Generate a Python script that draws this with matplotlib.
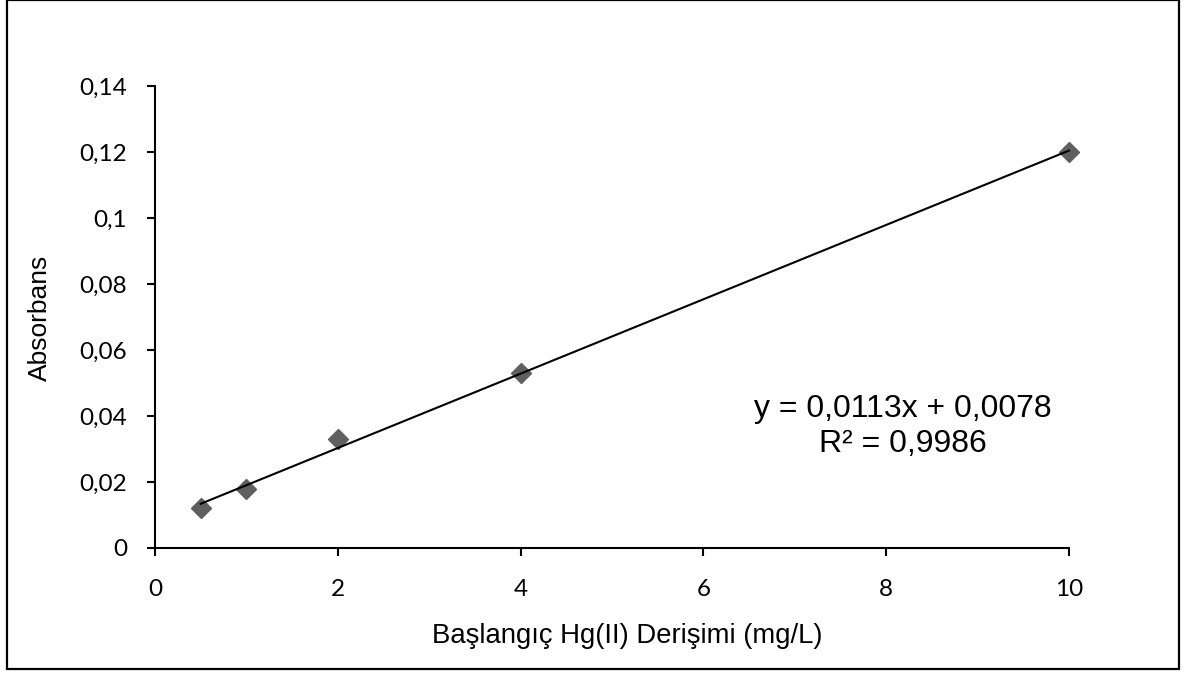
import numpy as np
import matplotlib
matplotlib.use("Agg")
import matplotlib.pyplot as plt
from matplotlib.patches import Rectangle
from matplotlib.ticker import FuncFormatter

# Data
concentration = [0.5, 1, 2, 4, 10]
absorbance = [0.012, 0.018, 0.033, 0.053, 0.120]
x_ticks = [0, 2, 4, 6, 8, 10]
y_ticks = [0, 0.02, 0.04, 0.06, 0.08, 0.10, 0.12, 0.14]
equation_text = "y = 0,0113x + 0,0078"
r2_text = "R² = 0,9986"
x_title = "Başlangıç Hg(II) Derişimi (mg/L)"
y_title = "Absorbans"

W, H = 1187, 675
fig = plt.figure(figsize=(W / 100, H / 100), dpi=100)
ax = fig.add_axes([155 / W, 1 - 548 / H, (1069 - 155) / W, (548 - 86) / H])

ax.plot(concentration, absorbance, linestyle="none", marker="D",
        markersize=10, color="#5f5f5f", markeredgecolor="#5f5f5f",
        zorder=3, clip_on=False)

# linear trendline
slope, intercept = np.polyfit(concentration, absorbance, 1)
xs = np.array([min(concentration), max(concentration)])
ax.plot(xs, slope * xs + intercept, color="black", linewidth=1.5,
        zorder=4, clip_on=False)

ax.set_xlim(0, 10)
ax.set_ylim(0, 0.14)
ax.set_xticks(x_ticks)
ax.set_yticks(y_ticks)


def comma_fmt(v, pos):
    s = f"{v:.2f}".rstrip("0").rstrip(".")
    return s.replace(".", ",")


ax.xaxis.set_major_formatter(FuncFormatter(comma_fmt))
ax.yaxis.set_major_formatter(FuncFormatter(comma_fmt))

for side in ["top", "right"]:
    ax.spines[side].set_visible(False)
for side in ["left", "bottom"]:
    ax.spines[side].set_linewidth(1.5)
    ax.spines[side].set_color("black")

ax.tick_params(axis="both", direction="out", length=6, width=1.5,
               labelsize=17.5, colors="black")
ax.tick_params(axis="y", pad=14)
ax.tick_params(axis="x", pad=16)
for lbl in ax.get_xticklabels() + ax.get_yticklabels():
    lbl.set_fontfamily("Lato")

fig.text(627 / W, 1 - 636 / H, x_title, ha="center", va="center",
         fontsize=19.8, family="Liberation Sans")
fig.text(40 / W, 1 - 318 / H, y_title, ha="center", va="center",
         rotation=90, fontsize=19, family="Liberation Sans")

fig.text(903 / W, 1 - 409 / H, equation_text, ha="center", va="center",
         fontsize=23, family="Liberation Sans")
fig.text(903 / W, 1 - 444 / H, r2_text, ha="center", va="center",
         fontsize=23, family="Liberation Sans")

# outer chart border
fig.patches.append(Rectangle((7 / W, 1 - 669 / H), (1179 - 7) / W, (669 - 0) / H,
                             transform=fig.transFigure, fill=False,
                             edgecolor="black", linewidth=1.6))

fig.savefig("out.png", dpi=100, facecolor="white")
